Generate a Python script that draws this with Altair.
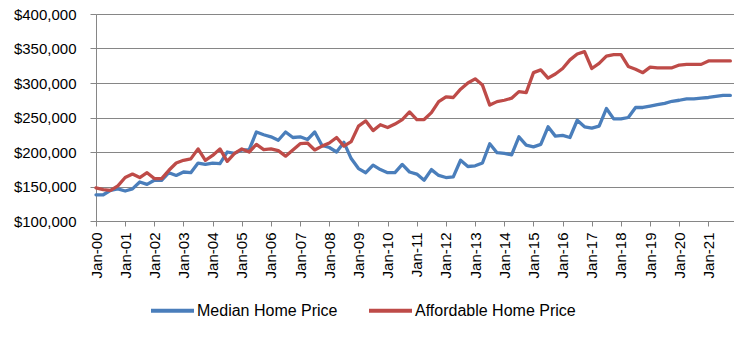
import altair as alt
import pandas as pd

# Quarterly observations, Jan-2000 .. Oct-2021 (index 0 = Q1 2000)
quarter_index = list(range(88))

median_price = [
    138000, 138000, 144500, 146500, 143500, 146500, 156500, 153000,
    159000, 159000, 170000, 166000, 171000, 170000, 184000, 182000,
    184000, 183000, 200000, 198000, 203000, 203000, 229000, 225000,
    222000, 217000, 229000, 221000, 222000, 218000, 229000, 209500,
    206500, 200000, 214000, 190500, 176000, 170000, 181000, 174500,
    170000, 170000, 182000, 171000, 168000, 159000, 174500, 166000,
    163000, 164000, 188000, 179000, 180000, 184000, 212000, 199000,
    198000, 196000, 222000, 210000, 207500, 211000, 236500, 223000,
    224000, 221000, 246000, 236500, 234500, 237500, 263000, 248000,
    248000, 250000, 264500, 264500, 266500, 268500, 270500, 273500,
    275000, 277000, 277000, 278000, 279000, 280500, 282000, 282000,
]

affordable_price = [
    148000, 145500, 144500, 151000, 163000, 168000, 163000, 170000,
    161500, 161500, 173500, 184000, 188000, 190000, 204500, 188000,
    195000, 204500, 186500, 198000, 204500, 200000, 211000, 203500,
    204500, 202000, 194000, 203000, 212000, 213000, 203000, 208500,
    213000, 221000, 208500, 215000, 237500, 245000, 231000, 239500,
    235500, 240500, 247000, 258000, 247000, 247000, 257000, 273000,
    280000, 279000, 291000, 300000, 306000, 297000, 268000, 273000,
    275000, 278000, 287500, 286000, 315000, 319000, 307000, 313000,
    321000, 333500, 342000, 345500, 321000, 328500, 339000, 341000,
    341000, 324000, 320000, 315000, 323000, 322000, 322000, 322000,
    326000, 327000, 327000, 327000, 332000, 332000, 332000, 332000,
]

series_names = ["Median Home Price", "Affordable Home Price"]
series_colors = ["#4A7EBB", "#BE4B48"]
year_tick_values = list(range(0, 88, 4))
y_tick_values = [100000, 150000, 200000, 250000, 300000, 350000, 400000]

df = pd.concat([
    pd.DataFrame({"q": quarter_index, "price": median_price, "series": series_names[0]}),
    pd.DataFrame({"q": quarter_index, "price": affordable_price, "series": series_names[1]}),
])

FONT = "Liberation Sans"

chart = alt.Chart(df).mark_line(strokeWidth=3.3, strokeJoin="round", strokeCap="round").encode(
    x=alt.X(
        "q:Q",
        scale=alt.Scale(domain=[0, 87.5], nice=False, zero=False),
        axis=alt.Axis(
            values=year_tick_values,
            labelExpr="'Jan-' + (datum.value/4 < 10 ? '0' : '') + (datum.value/4)",
            labelAngle=270,
            labelAlign="right",
            labelBaseline="middle",
            labelFontSize=15,
            labelFont=FONT,
            labelColor="#000000",
            labelPadding=6,
            tickSize=5,
            tickColor="#868686",
            domainColor="#868686",
            grid=False,
            title=None,
            labelOverlap=False,
        ),
    ),
    y=alt.Y(
        "price:Q",
        scale=alt.Scale(domain=[100000, 400000], nice=False, zero=False),
        axis=alt.Axis(
            values=y_tick_values,
            format="$,.0f",
            labelFontSize=15,
            labelFont=FONT,
            labelColor="#000000",
            labelPadding=14,
            tickSize=6,
            tickColor="#868686",
            domainColor="#868686",
            grid=True,
            gridColor="#868686",
            gridWidth=1,
            title=None,
        ),
    ),
    color=alt.Color(
        "series:N",
        scale=alt.Scale(domain=series_names, range=series_colors),
        sort=series_names,
        legend=alt.Legend(
            title=None,
            orient="none",
            legendX=53,
            legendY=273,
            direction="horizontal",
            symbolType="stroke",
            symbolSize=1849,
            symbolStrokeWidth=4,
            labelFontSize=16,
            labelFont=FONT,
            labelColor="#000000",
            labelOffset=1,
            labelLimit=400,
            columnPadding=23,
        ),
    ),
).properties(
    width=638,
    height=207,
    autosize=alt.AutoSizeParams(type="none"),
    padding={"left": 96, "top": 14, "right": 0, "bottom": 117},
).configure_view(stroke=None).configure(background="#ffffff")

chart.save("out.html", embed_options={"renderer": "svg", "actions": False})
